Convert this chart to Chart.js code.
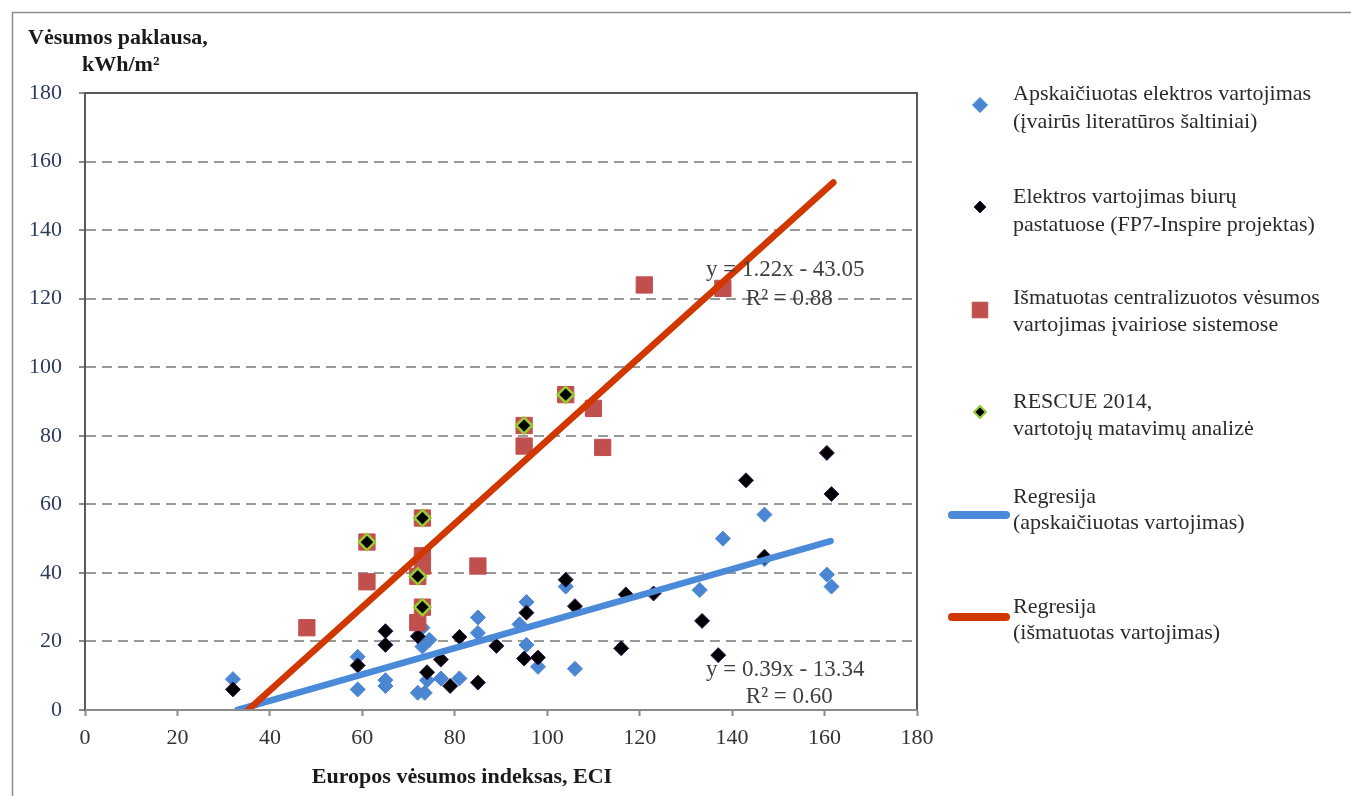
<!DOCTYPE html>
<html>
<head>
<meta charset="utf-8">
<script src="https://cdn.jsdelivr.net/npm/chart.js@4.4.0/dist/chart.umd.min.js"></script>
<style>
html,body{margin:0;padding:0;background:#fff;}
canvas{display:block;}
</style>
</head>
<body>
<canvas id="c" width="1351" height="796"></canvas>
<script>
// ---- data ----
const xTickValues = [0, 20, 40, 60, 80, 100, 120, 140, 160, 180];
const yTickValues = [0, 20, 40, 60, 80, 100, 120, 140, 160, 180];

const calcElecX = [32, 59, 59, 65, 65, 73, 74.5, 73, 74, 72, 73.5, 77, 81, 85, 85, 95.5, 94, 95.5, 98, 104, 106, 133, 138, 147, 147, 160.5, 161.5];
const calcElecY = [9, 15.5, 6, 8.7, 7, 24, 20.5, 18.5, 8.7, 5, 5, 9.2, 9.2, 27, 22.5, 31.5, 25, 19, 12.6, 36, 12, 35, 50, 57, 44, 39.5, 36];

const officeX = [32, 59, 65, 65, 72, 74, 77, 79, 81, 85, 89, 95.5, 95, 98, 104, 106, 116, 117, 123, 133.5, 137, 143, 147, 160.5, 161.5];
const officeY = [6, 13, 23, 19, 21.5, 11, 14.7, 7, 21.3, 8, 18.7, 28.4, 15, 15.3, 38, 30.3, 18, 33.7, 34, 26, 16, 67, 44.7, 75, 63];

const measuredX = [48, 61, 61, 72, 72, 73, 73, 73, 73, 85, 95, 95, 104, 110, 112, 121, 138];
const measuredY = [24, 37.4, 49, 25.5, 39, 45, 42, 56, 30, 42, 77, 83, 92, 88, 76.6, 124, 123];

const rescueX = [61, 73, 72, 73, 95, 104];
const rescueY = [49, 56, 39, 30, 83, 92];

const regCalcX = [33, 161.3];
const regCalcY = [0, 49.3];
const regMeasX = [35.3, 161.9];
const regMeasY = [0, 153.9];

const legendLabels = [
  ['Apskaičiuotas elektros vartojimas', '(įvairūs literatūros šaltiniai)'],
  ['Elektros vartojimas biurų', 'pastatuose (FP7-Inspire projektas)'],
  ['Išmatuotas centralizuotos vėsumos', 'vartojimas įvairiose sistemose'],
  ['RESCUE 2014,', 'vartotojų matavimų analizė'],
  ['Regresija', '(apskaičiuotas vartojimas)'],
  ['Regresija', '(išmatuotas vartojimas)']
];
const equationTexts = [
  ['y = 1.22x - 43.05', 'R² = 0.88'],
  ['y = 0.39x - 13.34', 'R² = 0.60']
];
const yTitleLines = ['Vėsumos paklausa,', 'kWh/m²'];
const xTitle = 'Europos vėsumos indeksas, ECI';

// ---- build ----
const pts = (xs, ys) => xs.map((x, i) => ({x: x, y: ys[i]}));
const SERIF = "'Liberation Serif', 'DejaVu Serif', serif";

const COL_BLUE = '#4a86d2';
const COL_BLACK = '#000000';
const COL_RED = '#c0504d';
const COL_LIME = '#9acd32';
const COL_BLUELINE = '#4a8ad8';
const COL_REDLINE = '#d03800';

const datasets = [
  {label: legendLabels[0].join(' '), data: pts(calcElecX, calcElecY), pointStyle: 'rectRot', pointRadius: 7.5, backgroundColor: COL_BLUE, borderColor: COL_BLUE, borderWidth: 1, order: 6},
  {label: legendLabels[1].join(' '), data: pts(officeX, officeY), pointStyle: 'rectRot', pointRadius: 7.5, backgroundColor: COL_BLACK, borderColor: '#3a1858', borderWidth: 1, order: 5},
  {label: legendLabels[2].join(' '), data: pts(measuredX, measuredY), pointStyle: 'rect', pointRadius: 11.5, backgroundColor: COL_RED, borderColor: COL_RED, borderWidth: 1, order: 4},
  {label: legendLabels[3].join(' '), data: pts(rescueX, rescueY), pointStyle: 'rectRot', pointRadius: 8, backgroundColor: COL_BLACK, borderColor: COL_LIME, borderWidth: 2.5, order: 3},
  {type: 'line', label: legendLabels[4].join(' '), data: pts(regCalcX, regCalcY), borderColor: COL_BLUELINE, borderWidth: 6.5, pointRadius: 0, borderCapStyle: 'round', fill: false, order: 2},
  {type: 'line', label: legendLabels[5].join(' '), data: pts(regMeasX, regMeasY), borderColor: COL_REDLINE, borderWidth: 6.5, pointRadius: 0, borderCapStyle: 'round', fill: false, order: 1}
];

const decorPlugin = {
  id: 'decor',
  beforeDraw(chart) {
    const ctx = chart.ctx;
    ctx.save();
    ctx.fillStyle = '#fff';
    ctx.fillRect(0, 0, chart.width, chart.height);
    ctx.strokeStyle = '#8c8c8c';
    ctx.lineWidth = 1.5;
    ctx.strokeRect(12.5, 12.5, chart.width + 20, chart.height + 20);
    ctx.restore();
  },
  afterDraw(chart) {
    const ctx = chart.ctx;
    const a = chart.chartArea;
    const xs = chart.scales.x, ys = chart.scales.y;
    ctx.save();
    // plot frame
    ctx.setLineDash([]);
    ctx.strokeStyle = '#595959';
    ctx.lineWidth = 2;
    ctx.beginPath();
    ctx.moveTo(a.left, a.bottom);
    ctx.lineTo(a.left, a.top);
    ctx.lineTo(a.right, a.top);
    ctx.lineTo(a.right, a.bottom);
    ctx.stroke();
    ctx.strokeStyle = '#8a8a8a';
    ctx.beginPath();
    ctx.moveTo(a.left, a.bottom);
    ctx.lineTo(a.right, a.bottom);
    ctx.stroke();

    // equations
    ctx.fillStyle = '#404040';
    ctx.font = '23px ' + SERIF;
    ctx.textAlign = 'center';
    ctx.textBaseline = 'middle';
    const eqPos = [[151.5, 128.5, 120], [151.5, 11.6, 3.8]];
    equationTexts.forEach((lines, i) => {
      ctx.fillText(lines[0], xs.getPixelForValue(eqPos[i][0]), ys.getPixelForValue(eqPos[i][1]));
      ctx.fillText(lines[1], xs.getPixelForValue(eqPos[i][0]) + 4, ys.getPixelForValue(eqPos[i][2]));
    });

    // y title
    ctx.fillStyle = '#1a1a1a';
    ctx.font = 'bold 22px ' + SERIF;
    ctx.textAlign = 'left';
    ctx.textBaseline = 'alphabetic';
    ctx.fillText(yTitleLines[0], 28, 44);
    ctx.fillText(yTitleLines[1], 82, 71);

    // x title
    ctx.textAlign = 'center';
    ctx.fillText(xTitle, 462, 783);

    // legend
    const items = [
      {cy: 105, lines: [94, 122], ds: 0, size: 7.5},
      {cy: 207, lines: [197, 225], ds: 1, size: 6},
      {cy: 310, lines: [298, 325], ds: 2, size: 11},
      {cy: 412, lines: [402, 429], ds: 3, size: 6},
      {cy: 515, lines: [497, 523], ds: 4},
      {cy: 617, lines: [607, 633], ds: 5}
    ];
    ctx.font = '22px ' + SERIF;
    ctx.textAlign = 'left';
    ctx.textBaseline = 'middle';
    items.forEach((it, i) => {
      const ds = chart.data.datasets[it.ds];
      if (ds.type === 'line') {
        ctx.strokeStyle = ds.borderColor;
        ctx.lineWidth = 8;
        ctx.lineCap = 'round';
        ctx.beginPath();
        ctx.moveTo(952, it.cy);
        ctx.lineTo(1006, it.cy);
        ctx.stroke();
      } else {
        ctx.fillStyle = ds.backgroundColor;
        ctx.strokeStyle = ds.borderColor;
        ctx.lineWidth = ds.borderWidth > 1 ? 2 : 1;
        Chart.helpers.drawPoint(ctx, {pointStyle: ds.pointStyle, radius: it.size, rotation: 0, borderWidth: ctx.lineWidth}, 980, it.cy);
      }
      ctx.fillStyle = '#2b2b2b';
      legendLabels[i].forEach((t, j) => ctx.fillText(t, 1013, it.lines[j]));
    });
    ctx.restore();
  }
};

new Chart(document.getElementById('c'), {
  type: 'scatter',
  data: {datasets: datasets},
  plugins: [decorPlugin],
  options: {
    responsive: false,
    animation: false,
    devicePixelRatio: 1,
    layout: {padding: {top: 93, right: 434, left: 0, bottom: 0}},
    plugins: {legend: {display: false}, tooltip: {enabled: false}},
    scales: {
      x: {
        type: 'linear', min: 0, max: 180,
        afterBuildTicks: s => { s.ticks = xTickValues.map(v => ({value: v})); },
        afterFit: s => { s.height = 86; },
        ticks: {color: '#333', font: {family: SERIF, size: 22}, padding: 9, maxRotation: 0},
        grid: {drawOnChartArea: false, drawTicks: true, tickLength: 6, tickColor: '#8a8a8a', tickWidth: 2},
        border: {display: true, color: '#8a8a8a', width: 2}
      },
      y: {
        type: 'linear', min: 0, max: 180,
        afterBuildTicks: s => { s.ticks = yTickValues.map(v => ({value: v})); },
        afterFit: s => { s.width = 85; },
        ticks: {color: '#2e3b5c', font: {family: SERIF, size: 22}, padding: 17},
        grid: {
          drawTicks: true, tickLength: 6, tickWidth: 2, tickBorderDash: [],
          tickColor: '#8a8a8a',
          color: c => (c.tick && (c.tick.value === 0 || c.tick.value === 180)) ? 'rgba(0,0,0,0)' : '#999999',
          lineWidth: 2
        },
        border: {display: true, color: '#595959', width: 2, dash: [10, 6]}
      }
    }
  }
});
</script>
</body>
</html>
